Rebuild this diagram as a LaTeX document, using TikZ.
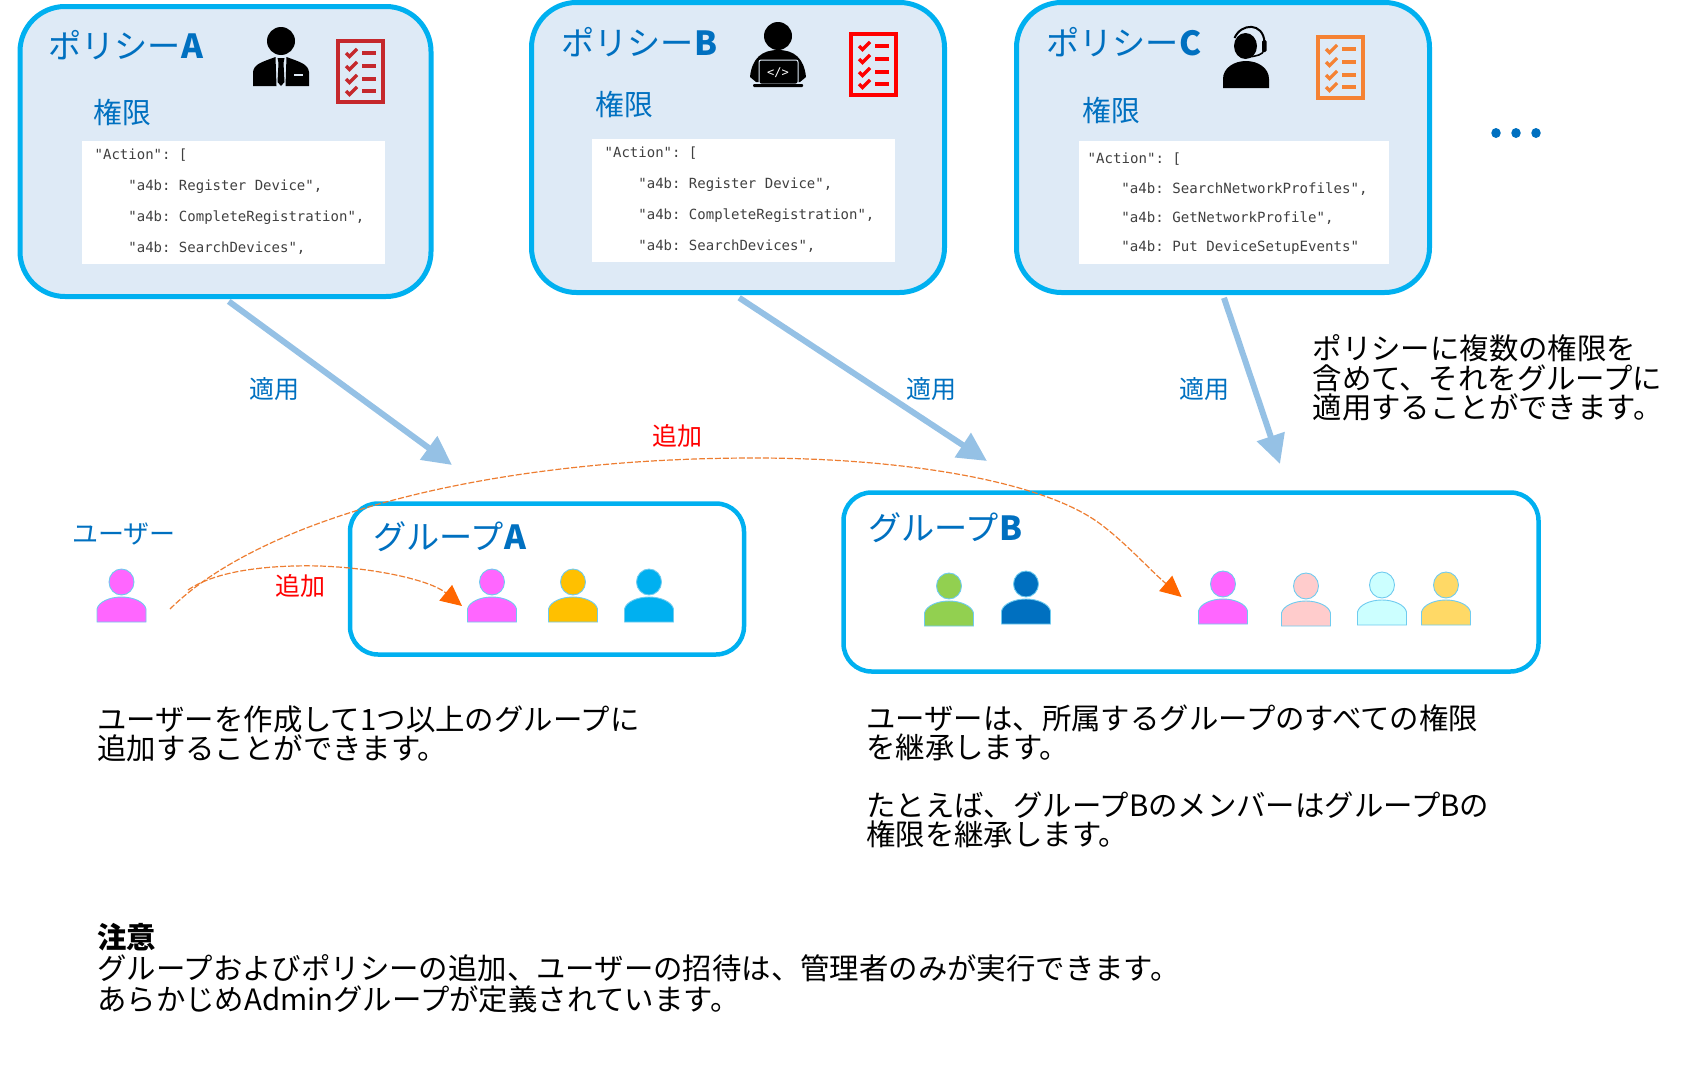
\documentclass[tikz,border=0pt]{standalone}
\usepackage{fontspec}
\usepackage{xcolor}
\usepackage{tikz}
\setmainfont{Noto Sans CJK JP}
\setmonofont{DejaVu Sans Mono}
\usetikzlibrary{arrows.meta, shapes.geometric, positioning, calc}

\definecolor{boxline}{HTML}{00B0F0}
\definecolor{boxfill}{HTML}{DEEAF6}
\definecolor{titleblue}{HTML}{0070C0}
\definecolor{applyblue}{HTML}{95C1E5}
\definecolor{addline}{HTML}{ED7D31}
\definecolor{addtip}{HTML}{FF6600}
\definecolor{personline}{HTML}{6FCBEF}
\definecolor{listred}{HTML}{C5282C}
\definecolor{listorange}{HTML}{F58233}
\definecolor{memberpink}{HTML}{FF66FF}
\definecolor{memberorange}{HTML}{FFC000}
\definecolor{membergreen}{HTML}{92D050}
\definecolor{memberrose}{HTML}{FFCCCC}
\definecolor{membercyan}{HTML}{CCFFFF}
\definecolor{memberyellow}{HTML}{FFD966}

\tikzset{
    policybox/.style={draw=boxline, fill=boxfill, line width=5pt, rounded corners=45pt, inner sep=0pt},
    groupbox/.style={draw=boxline, line width=4.5pt, rounded corners=28pt, inner sep=0pt},
    codepanel/.style={fill=white, inner sep=0pt, anchor=north west},
    codetext/.style={font=\ttfamily\fontsize{14}{31}\selectfont, text=black!75, align=left, anchor=north west, inner sep=0pt},
    titletext/.style={font=\fontsize{33.2}{36}\selectfont, text=titleblue, anchor=west, inner sep=0pt},
    permtext/.style={font=\fontsize{28.8}{32}\selectfont, text=titleblue, anchor=west, inner sep=0pt},
    applytext/.style={font=\fontsize{25}{28}\selectfont, text=titleblue, inner sep=0pt},
    addtext/.style={font=\fontsize{25}{28}\selectfont, text=red, inner sep=0pt},
    bodytext/.style={font=\fontsize{29.4}{29.5}\selectfont, align=left, anchor=west, inner sep=0pt},
    applyarrow/.style={draw=applyblue, line width=6pt, -{Triangle[length=29pt, width=28pt]}},
    addarrow/.style={draw=addline, line width=1.2pt, dash pattern=on 6pt off 2pt, -{Triangle[length=21pt, width=20pt, color=addtip, fill=addtip]}},
    personhead/.style={draw=personline, line width=0.9pt, ellipse, minimum width=25pt, minimum height=26pt, inner sep=0pt},
    dotmark/.style={fill=titleblue, ellipse, minimum width=9.5pt, minimum height=10pt, inner sep=0pt},
}

% name, x, head y, colour
\newcommand{\person}[4]{
    \node[personhead, fill=#4] (#1) at (#2, #3) {};
    \draw[draw=personline, line width=0.9pt, fill=#4] (#2-24.5, #3+40) -- (#2-24.5, #3+27)
        .. controls (#2-23, #3+20) and (#2-12, #3+15) .. (#2, #3+15)
        .. controls (#2+12, #3+15) and (#2+23, #3+20) .. (#2+24.5, #3+27)
        -- (#2+24.5, #3+40) -- cycle;
}

% x, y, colour
\newcommand{\checklist}[3]{
    \begin{scope}[shift={(#1, #2)}, draw=#3]
        \draw[line width=4.5pt] (2.2, 2.2) rectangle (47, 63);
        \foreach \row in {14, 27, 40, 52} {
            \draw[line width=3.2pt] (10, \row) -- (13.5, \row+3.5) -- (21, \row-4);
            \draw[line width=3.2pt] (26, \row) -- (40, \row);
        }
    \end{scope}
}

\begin{document}
\begin{tikzpicture}[x=1pt, y=-1pt]
    \useasboundingbox (0, 0) rectangle (1682, 1071);

    % policies
    \node[policybox, minimum width=411pt, minimum height=290pt] (policyA) at (225.5, 151.5) {};
    \node[policybox, minimum width=413pt, minimum height=290pt] (policyB) at (738, 147.5) {};
    \node[policybox, minimum width=413pt, minimum height=290pt] (policyC) at (1223, 147.5) {};

    \node[titletext] (titleA) at (48, 45) {ポリシー\textbf{A}};
    \node[titletext] (titleB) at (561, 42) {ポリシー\textbf{B}};
    \node[titletext] (titleC) at (1046, 42.5) {ポリシー\textbf{C}};

    \node[permtext] (permA) at (93, 112) {権限};
    \node[permtext] (permB) at (595, 104) {権限};
    \node[permtext] (permC) at (1082, 110) {権限};

    \node[codepanel, minimum width=303pt, minimum height=123pt] (panelA) at (82, 141) {};
    \node[codepanel, minimum width=303pt, minimum height=123pt] (panelB) at (592, 139) {};
    \node[codepanel, minimum width=310pt, minimum height=123pt] (panelC) at (1079, 141) {};

    \node[codetext] (codeA) at (94.5, 149) {"Action": [\\
        \hspace*{33.7pt}"a4b: Register Device",\\
        \hspace*{33.7pt}"a4b: CompleteRegistration",\\
        \hspace*{33.7pt}"a4b: SearchDevices",};
    \node[codetext] (codeB) at (604.5, 147) {"Action": [\\
        \hspace*{33.7pt}"a4b: Register Device",\\
        \hspace*{33.7pt}"a4b: CompleteRegistration",\\
        \hspace*{33.7pt}"a4b: SearchDevices",};
    \node[codetext, font=\ttfamily\fontsize{14.1}{29.3}\selectfont] (codeC) at (1087.5, 153) {"Action": [\\
        \hspace*{33.7pt}"a4b: SearchNetworkProfiles",\\
        \hspace*{33.7pt}"a4b: GetNetworkProfile",\\
        \hspace*{33.7pt}"a4b: Put DeviceSetupEvents"};

    % icons
    \fill (281, 41) circle[radius=14pt];
    \fill (253, 86) -- (253, 72) .. controls (254, 64) and (262, 62) .. (275.5, 57) -- (276.5, 86) -- cycle;
    \fill (286.5, 57) .. controls (300, 62) and (308, 64) .. (309, 72) -- (309, 86) -- (285.5, 86) -- cycle;
    \fill (277.5, 58) -- (284.5, 58) -- (283.5, 63) -- (284.5, 82) -- (281, 86) -- (277.5, 82) -- (278.5, 63) -- cycle;
    \draw[boxfill, line width=1.2pt] (294, 75) -- (303, 75);

    \fill (778, 36) circle[radius=14pt];
    \fill (750, 77) .. controls (752, 58) and (762, 50) .. (778, 50) .. controls (794, 50) and (804, 58) .. (806, 77) -- (800, 82) -- (756, 82) -- cycle;
    \draw[boxfill, fill=black, line width=1pt, rounded corners=2pt] (759, 60) rectangle (798, 84);
    \fill[rounded corners=1pt] (753, 84) rectangle (803, 87);
    \node[font=\ttfamily\fontsize{12}{13}\selectfont, text=white, inner sep=0pt] (codemark) at (778, 73) {</>};

    \fill (1245.5, 46) ellipse[x radius=11.5pt, y radius=13pt];
    \fill (1223, 88) -- (1223, 79) .. controls (1223, 68) and (1234, 61) .. (1246, 61) .. controls (1258, 61) and (1269, 68) .. (1269, 79) -- (1269, 88) -- cycle;
    \draw[line width=2pt] (1234.5, 38) .. controls (1241, 23) and (1263, 22) .. (1264.5, 42);
    \fill[rounded corners=1.5pt] (1262, 40) rectangle (1266.5, 52);
    \draw[line width=1.6pt] (1264, 50) .. controls (1263, 55) and (1256, 56) .. (1249, 57);

    \checklist{336}{39}{listred}
    \checklist{849}{32}{red}
    \checklist{1316}{35}{listorange}

    \node[dotmark] (dot1) at (1496, 133) {};
    \node[dotmark] (dot2) at (1516, 133) {};
    \node[dotmark] (dot3) at (1536, 133) {};

    % groups
    \node[groupbox, minimum width=394pt, minimum height=151pt] (groupA) at (547, 579) {};
    \node[groupbox, minimum width=695pt, minimum height=179pt] (groupB) at (1191, 582) {};

    \node[titletext] (titleGA) at (373, 537) {グループ\textbf{A}};
    \node[titletext] (titleGB) at (868, 528) {グループ\textbf{B}};
    \node[applytext, font=\fontsize{26}{28}\selectfont] (titleUser) at (124, 534) {ユーザー};

    % members
    \person{user}{121.5}{582}{memberpink}
    \person{memA1}{492}{582}{memberpink}
    \person{memA2}{573}{582}{memberorange}
    \person{memA3}{649}{582}{boxline}
    \person{memB1}{949}{586}{membergreen}
    \person{memB2}{1026}{584}{titleblue}
    \person{memB3}{1223}{584}{memberpink}
    \person{memB4}{1306}{586}{memberrose}
    \person{memB5}{1382}{585}{membercyan}
    \person{memB6}{1446}{585}{memberyellow}

    % applied to groups
    \coordinate (applyA) at (452, 465);
    \coordinate (applyB) at (987, 461);
    \coordinate (applyC) at (1280, 464);

    \draw[applyarrow, shorten <=4pt] (policyA.south) -- (applyA);
    \draw[applyarrow, shorten <=5pt] ([xshift=-3pt]policyB.south) -- (applyB);
    \draw[applyarrow, shorten <=3pt] (policyC.south) -- (applyC);

    \node[applytext] (applyLabelA) at (274, 389) {適用};
    \node[applytext] (applyLabelB) at (931, 389) {適用};
    \node[applytext] (applyLabelC) at (1204, 389) {適用};

    % added to groups
    \coordinate (addFrom1) at (188, 590);
    \coordinate (addFrom2) at (170, 609);
    \coordinate (addTo1) at (462, 606);
    \coordinate (addTo2) at (1181.6, 597);

    \draw[addarrow] (addFrom1) .. controls (220, 568) and (280, 565) .. (320, 566)
        .. controls (375, 568) and (430, 580) .. (addTo1);
    \draw[addarrow] (addFrom2) .. controls (260, 520) and (480, 458) .. (755, 458)
        .. controls (900, 458) and (1040, 480) .. (1099, 523)
        .. controls (1125, 542) and (1150, 570) .. (addTo2);

    \node[addtext] (addLabel1) at (300, 586) {追加};
    \node[addtext] (addLabel2) at (677, 436) {追加};

    % notes
    \node[bodytext] (noteMany) at (1312.5, 378) {ポリシーに複数の権限を\\含めて、それをグループに\\適用することができます。};
    \node[bodytext] (noteUser) at (97, 734) {ユーザーを作成して1つ以上のグループに\\追加することができます。};
    \node[bodytext] (noteInherit) at (866, 733) {ユーザーは、所属するグループのすべての権限\\を継承します。};
    \node[bodytext] (noteExample) at (866, 820) {たとえば、グループBのメンバーはグループBの\\権限を継承します。};
    \node[bodytext, font=\fontsize{29.4}{31}\selectfont] (noteAdmin) at (97, 968) {\textbf{注意}\\グループおよびポリシーの追加、ユーザーの招待は、管理者のみが実行できます。\\あらかじめAdminグループが定義されています。};
\end{tikzpicture}
\end{document}
